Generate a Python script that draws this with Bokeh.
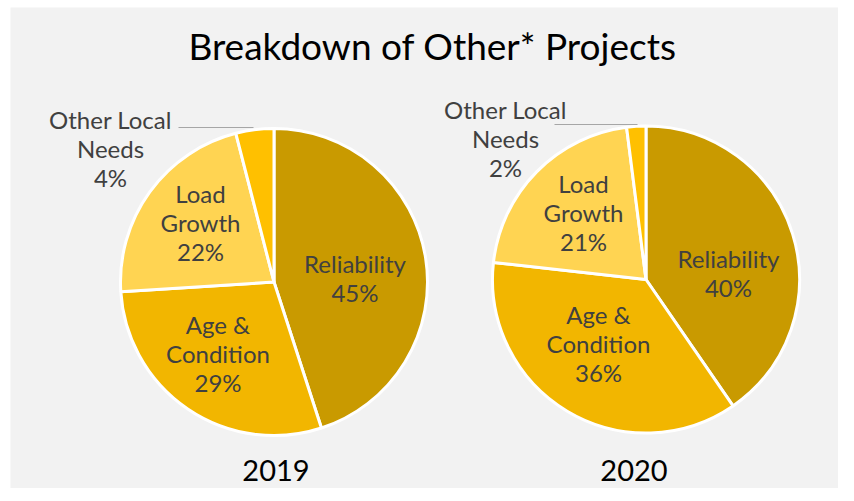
import math
from bokeh.plotting import figure
from bokeh.models import Range1d, ColumnDataSource
from bokeh.core.properties import value
from bokeh.embed import file_html
from bokeh.resources import INLINE

# ---------------- data ----------------
categories = ["Reliability", "Age & Condition", "Load Growth", "Other Local Needs"]
label_lines = ["Reliability", "Age &\nCondition", "Load\nGrowth", "Other Local\nNeeds"]
values_2019 = [45, 29, 22, 4]
values_2020 = [40, 36, 21, 2]
years = ["2019", "2020"]
title_text = "Breakdown of Other* Projects"

# ---------------- style / layout ----------------
colors = ["#C99A00", "#F2B600", "#FFD452", "#FFC000"]
W, H = 838, 488
LEFT, TOP = 10, 7
FW, FH = W - LEFT, H - TOP
FONT = "Lato"

def dx(sx):
    return sx - LEFT

def dy(sy):
    return H - sy

# pie centers / radius in page pixels
centers = [(273.5, 281.5), (645.5, 279.0)]
radius = 153.5
# label offsets (page pixels) relative to pie centers
label_offsets = [
    [(81, -4), (-56, 71.5), (-73.5, -59.5), (-163.5, -134)],
    [(82.5, -7), (-47.5, 64), (-62.5, -67), (-140.5, -141)],
]
# leader lines for the small outside slice (page pixels)
leaders = [((178, 127), (253, 127)), ((554, 124), (637, 124))]
year_pos = [(275.5, 470), (633.5, 470)]

p = figure(width=W, height=H, output_backend="svg", toolbar_location=None,
           x_range=Range1d(0, FW), y_range=Range1d(0, FH),
           min_border_left=LEFT, min_border_top=TOP, min_border_right=0,
           min_border_bottom=0, background_fill_color="#F2F2F2",
           border_fill_color="#FFFFFF", outline_line_color=None)
p.axis.visible = False
p.grid.visible = False

for k, vals in enumerate([values_2019, values_2020]):
    total = float(sum(vals))
    cx, cy = centers[k]
    starts, ends = [], []
    cum = 0.0
    for v in vals:
        a0 = math.pi / 2 - 2 * math.pi * cum / total
        cum += v
        a1 = math.pi / 2 - 2 * math.pi * cum / total
        starts.append(a0)
        ends.append(a1)
    src = ColumnDataSource(dict(
        x=[dx(cx)] * len(vals), y=[dy(cy)] * len(vals),
        start=starts, end=ends, color=colors, cat=categories))
    p.wedge(x="x", y="y", radius=radius, start_angle="start", end_angle="end",
            direction="clock", fill_color="color", line_color="white",
            line_width=3, source=src)

    texts = [f"{lab}\n{v}%" for lab, v in zip(label_lines, vals)]
    lx = [dx(cx + o[0]) for o in label_offsets[k]]
    ly = [dy(cy + o[1]) for o in label_offsets[k]]
    p.text(x=lx, y=ly, text=texts, text_font=value(FONT), text_font_size="24px",
           text_color="#404040", text_align="center", text_baseline="middle",
           text_line_height=1.0)

    (x0, y0), (x1, y1) = leaders[k]
    p.line(x=[dx(x0), dx(x1)], y=[dy(y0), dy(y1)], line_color="#A6A6A6", line_width=1.2)

    yx, yy = year_pos[k]
    p.text(x=[dx(yx)], y=[dy(yy)], text=[years[k]], text_font=value(FONT),
           text_font_size="29px", text_color="#000000", text_align="center",
           text_baseline="middle")

p.text(x=[dx(432)], y=[dy(45)], text=[title_text], text_font=value(FONT),
       text_font_size="37px", text_color="#000000", text_align="center",
       text_baseline="middle")

open("out.html", "w").write(file_html(p, INLINE))
